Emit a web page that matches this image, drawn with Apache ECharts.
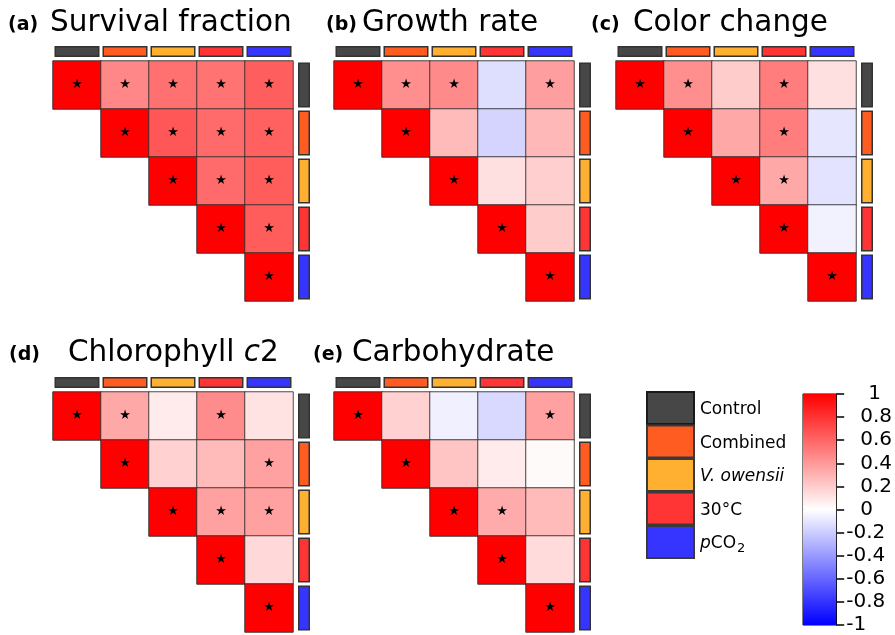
<!DOCTYPE html>
<html>
<head>
<meta charset="utf-8">
<script src="https://cdn.jsdelivr.net/npm/echarts@6/dist/echarts.min.js"></script>
<style>
  html, body { margin: 0; padding: 0; background: #fff; }
  #chart { width: 895px; height: 635px; }
</style>
</head>
<body>
<div id="chart"></div>
<script>
// treatments (rows/columns of every matrix)
const treatments = ['Control', 'Combined', 'V. owensii', '30°C', 'pCO2'];
const treatmentColors = ['#474747', '#ff5c22', '#ffb030', '#ff3535', '#3535ff'];

const panelLetters = ['(a)', '(b)', '(c)', '(d)', '(e)'];
const panelTitles = ['Survival fraction', 'Growth rate', 'Color change', '{n|Chlorophyll }{i|c}{n|2}', 'Carbohydrate'];

// correlations, upper triangle: row i starts at column i
const survivalCorr = [[1, 0.47, 0.56, 0.55, 0.63], [1, 0.66, 0.58, 0.62], [1, 0.58, 0.64], [1, 0.64], [1]];
const survivalSig  = [[1, 1, 1, 1, 1], [1, 1, 1, 1], [1, 1, 1], [1, 1], [1]];
const growthCorr   = [[1, 0.44, 0.46, -0.13, 0.38], [1, 0.27, -0.17, 0.28], [1, 0.12, 0.19], [1, 0.2], [1]];
const growthSig    = [[1, 1, 1, 0, 1], [1, 0, 0, 0], [1, 0, 0], [1, 0], [1]];
const colorCorr    = [[1, 0.44, 0.2, 0.51, 0.12], [1, 0.34, 0.51, -0.1], [1, 0.34, -0.11], [1, -0.05], [1]];
const colorSig     = [[1, 1, 0, 1, 0], [1, 0, 1, 0], [1, 1, 0], [1, 0], [1]];
const chlCorr      = [[1, 0.34, 0.08, 0.45, 0.11], [1, 0.18, 0.27, 0.37], [1, 0.37, 0.37], [1, 0.15], [1]];
const chlSig       = [[1, 1, 0, 1, 0], [1, 0, 0, 1], [1, 1, 1], [1, 0], [1]];
const carbCorr     = [[1, 0.18, -0.06, -0.15, 0.37], [1, 0.23, 0.08, 0.02], [1, 0.33, 0.27], [1, 0.14], [1]];
const carbSig      = [[1, 0, 0, 0, 1], [1, 0, 0, 0], [1, 1, 0], [1, 0], [1]];

const corrs = [survivalCorr, growthCorr, colorCorr, chlCorr, carbCorr];
const sigs = [survivalSig, growthSig, colorSig, chlSig, carbSig];

// layout
const panelPos = [[53, 61], [334, 61], [616, 61], [53, 392], [334, 392]];
const letterX = [8, 326, 591, 9, 313];
const titleX = [50, 362, 633, 68, 352];
const baseY = [33, 33, 33, 363, 363];
const cell = 240;
const font = 'DejaVu Sans';

const grid = [], xAxis = [], yAxis = [], series = [], title = [];
const idx = [0, 1, 2, 3, 4];

// heatmaps first so visualMap can target them
panelPos.forEach(([L, T], p) => {
  grid.push({ left: L, top: T, width: cell, height: cell });
  xAxis.push({ type: 'category', data: idx, gridIndex: p, show: false });
  yAxis.push({ type: 'category', data: idx, gridIndex: p, inverse: true, show: false });
  const data = [];
  corrs[p].forEach((row, i) => row.forEach((v, k) => {
    data.push({ value: [i + k, i, v], sig: sigs[p][i][k] });
  }));
  series.push({
    type: 'heatmap', xAxisIndex: p, yAxisIndex: p, data: data,
    itemStyle: { borderColor: 'rgba(45,45,45,0.85)', borderWidth: 1 },
    label: {
      show: true, color: '#000', fontSize: 13, fontFamily: font,
      formatter: prm => prm.data.sig ? '★' : ''
    },
    emphasis: { disabled: true }
  });
});

// colour strips on top and right of each matrix
panelPos.forEach(([L, T], p) => {
  const gTop = grid.length;
  grid.push({ left: L, top: T - 15, width: cell, height: 11 });
  xAxis.push({ type: 'category', data: idx, gridIndex: gTop, show: false });
  yAxis.push({ type: 'value', min: 0, max: 1, gridIndex: gTop, show: false });
  series.push({
    type: 'bar', xAxisIndex: gTop, yAxisIndex: gTop, barWidth: 45, silent: true,
    data: treatmentColors.map(c => ({ value: 1, itemStyle: { color: c } })),
    itemStyle: { borderColor: '#333', borderWidth: 1.5 }
  });
  const gRight = grid.length;
  grid.push({ left: L + cell + 5, top: T, width: 12, height: cell });
  yAxis.push({ type: 'category', data: idx, gridIndex: gRight, inverse: true, show: false });
  xAxis.push({ type: 'value', min: 0, max: 1, gridIndex: gRight, show: false });
  series.push({
    type: 'bar', xAxisIndex: gRight, yAxisIndex: gRight, barWidth: 45, silent: true,
    data: treatmentColors.map(c => ({ value: 1, itemStyle: { color: c } })),
    itemStyle: { borderColor: '#333', borderWidth: 1.5 }
  });

  title.push({
    text: panelLetters[p], left: letterX[p], top: baseY[p] - 17, padding: 0,
    textStyle: { fontFamily: font, fontSize: 19, fontWeight: 'bold', color: '#000' }
  });
  title.push({
    text: panelTitles[p], left: titleX[p], top: baseY[p] - 25, padding: 0,
    textStyle: {
      fontFamily: font, fontSize: 29.5, fontWeight: 'normal', color: '#000',
      rich: {
        n: { fontFamily: font, fontSize: 29.5, color: '#000' },
        i: { fontFamily: font, fontSize: 29.5, fontStyle: 'italic', color: '#000' }
      }
    }
  });
});

// colorbar
const cb = grid.length;
grid.push({ left: 803, top: 394, width: 37, height: 237, show: true, borderColor: '#000', borderWidth: 1 });
xAxis.push({ type: 'category', data: ['r'], gridIndex: cb, show: false });
yAxis.push({
  type: 'value', min: -1, max: 1, interval: 0.2, gridIndex: cb, position: 'right',
  axisLine: { show: true, lineStyle: { color: '#000', width: 1 } },
  axisTick: { show: true, length: 8, lineStyle: { color: '#000', width: 1.5 } },
  splitLine: { show: false },
  axisLabel: {
    margin: 10, fontFamily: font, fontSize: 20, color: '#000', showMinLabel: true, showMaxLabel: true,
    formatter: v => {
      const s = String(Math.round(v * 10) / 10);
      if (v < 0) return '{a|' + s + '}';
      if (v === 1) return '{c|' + s + '}';
      return '{b|' + s + '}';
    },
    rich: {
      a: { fontFamily: font, fontSize: 20, color: '#000' },
      b: { fontFamily: font, fontSize: 20, color: '#000', padding: [0, 0, 0, 14] },
      c: { fontFamily: font, fontSize: 20, color: '#000', padding: [0, 0, 0, 22] }
    }
  }
});
series.push({
  type: 'bar', xAxisIndex: cb, yAxisIndex: cb, stack: 'cb', barWidth: '100%', silent: true, data: [1],
  itemStyle: { color: { type: 'linear', x: 0, y: 0, x2: 0, y2: 1, colorStops: [{ offset: 0, color: '#ff0000' }, { offset: 1, color: '#ffffff' }] } }
});
series.push({
  type: 'bar', xAxisIndex: cb, yAxisIndex: cb, stack: 'cb', barWidth: '100%', silent: true, data: [-1],
  itemStyle: { color: { type: 'linear', x: 0, y: 0, x2: 0, y2: 1, colorStops: [{ offset: 0, color: '#ffffff' }, { offset: 1, color: '#0000ff' }] } }
});

// treatment legend
const legendItems = [];
treatments.forEach((name, i) => {
  const y = 392 + i * 33.5;
  legendItems.push({
    type: 'rect', shape: { x: 647, y: y, width: 47, height: 32 },
    style: { fill: treatmentColors[i], stroke: i === 0 ? '#1a1a1a' : '#3a3a3a', lineWidth: 2 }
  });
  let txt = name;
  if (name === 'V. owensii') txt = '{i|V. owensii}';
  if (name === 'pCO2') txt = '{i|p}{n|CO}{s|2}';
  legendItems.push({
    type: 'text', x: 700, y: y + 18,
    style: {
      text: txt, fill: '#000', font: '17px "DejaVu Sans"', verticalAlign: 'middle',
      rich: {
        i: { fontFamily: font, fontSize: 17, fontStyle: 'italic' },
        n: { fontFamily: font, fontSize: 17 },
        s: { fontFamily: font, fontSize: 13, padding: [10, 0, 0, 1] }
      }
    }
  });
});

const chart = echarts.init(document.getElementById('chart'));
chart.setOption({
  animation: false,
  backgroundColor: '#fff',
  title: title,
  grid: grid,
  xAxis: xAxis,
  yAxis: yAxis,
  visualMap: {
    type: 'continuous', show: false, min: -1, max: 1, dimension: 2,
    seriesIndex: [0, 1, 2, 3, 4],
    inRange: { color: ['#0000ff', '#ffffff', '#ff0000'] }
  },
  graphic: legendItems,
  series: series
});
</script>
</body>
</html>
